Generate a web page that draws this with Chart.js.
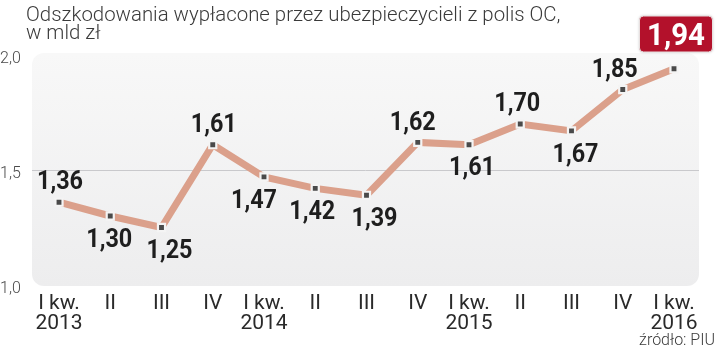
<!DOCTYPE html>
<html lang="pl">
<head>
<meta charset="utf-8">
<script src="https://cdn.jsdelivr.net/npm/chart.js@4.4.1/dist/chart.umd.min.js"></script>
<style>
  html, body { margin: 0; padding: 0; background: #fff; }
  #wrap { position: relative; width: 720px; height: 348px; overflow: hidden; }
  #chart { position: absolute; left: 0; top: 0; }
  #title { position: absolute; left: 26px; top: 5px; font: 300 20.4px/18px Roboto, sans-serif; color: #3a3a3a; white-space: nowrap; }
  #source { position: absolute; right: 5px; top: 332px; font: 300 16px/16px Roboto, sans-serif; color: #3a3a3a; }
</style>
</head>
<body>
<div id="wrap">
  <canvas id="chart" width="720" height="348"></canvas>
  <div id="title">Odszkodowania wypłacone przez ubezpieczycieli z polis OC,<br>w mld zł</div>
  <div id="source">źródło: PIU</div>
</div>
<script>
// quarterly payouts, bn PLN
const quarterLabels = ['I kw.', 'II', 'III', 'IV', 'I kw.', 'II', 'III', 'IV', 'I kw.', 'II', 'III', 'IV', 'I kw.'];
const yearLabels = ['2013', '', '', '', '2014', '', '', '', '2015', '', '', '', '2016'];
const payouts = [1.36, 1.30, 1.25, 1.61, 1.47, 1.42, 1.39, 1.62, 1.61, 1.70, 1.67, 1.85, 1.94];
const yTicks = [1.0, 1.5, 2.0];

// where each value label sits relative to its point
const labelSide = ['up', 'down', 'down', 'up', 'down', 'down', 'down', 'up', 'down', 'up', 'down', 'up', 'box'];
const labelShift = [1, -1, 8, 1, -10, -3, 8, -5, 3, -3, 4, -8, 2];

const categories = quarterLabels.map((q, i) => yearLabels[i] ? [q, yearLabels[i]] : q);

// light panel behind the plot plus the single 1,5 gridline
const panelPlugin = {
    id: 'panel',
    beforeDraw(chart) {
        const ctx = chart.ctx;
        const y = chart.scales.y;
        const x0 = 32, x1 = 699, y0 = 53, y1 = 286, r = 12;
        ctx.save();
        const grad = ctx.createLinearGradient(0, y0, 0, y1);
        grad.addColorStop(0, '#f8f8f8');
        grad.addColorStop(1, '#ededee');
        ctx.fillStyle = grad;
        ctx.beginPath();
        ctx.roundRect(x0, y0, x1 - x0, y1 - y0, r);
        ctx.fill();
        const gy = Math.round(y.getPixelForValue(1.5)) + 0.5;
        ctx.strokeStyle = '#c9c9cc';
        ctx.lineWidth = 1;
        ctx.beginPath();
        ctx.moveTo(x0, gy);
        ctx.lineTo(x1, gy);
        ctx.stroke();
        ctx.restore();
    }
};

function fmt(v, digits) {
    return v.toFixed(digits).replace('.', ',');
}

function drawCondensed(ctx, text, cx, cy, size, squeeze, color) {
    ctx.save();
    ctx.font = 'bold ' + size + 'px Roboto, sans-serif';
    ctx.fillStyle = color;
    ctx.textAlign = 'center';
    ctx.textBaseline = 'alphabetic';
    ctx.translate(cx, cy + size * 0.355);
    ctx.scale(squeeze, 1);
    ctx.fillText(text, 0, 0);
    ctx.restore();
}

// value labels above / below the markers, last one in a red badge
const valueLabelPlugin = {
    id: 'valueLabels',
    afterDatasetsDraw(chart) {
        const ctx = chart.ctx;
        const meta = chart.getDatasetMeta(0);
        meta.data.forEach((pt, i) => {
            const text = fmt(payouts[i], 2);
            const cx = pt.x + labelShift[i];
            if (labelSide[i] === 'box') {
                const bw = 73, bh = 36, by = 16;
                ctx.save();
                ctx.shadowColor = 'rgba(0,0,0,0.25)';
                ctx.shadowBlur = 3;
                ctx.fillStyle = '#b3112b';
                ctx.beginPath();
                ctx.roundRect(cx - bw / 2, by, bw, bh, 4);
                ctx.fill();
                ctx.shadowColor = 'transparent';
                ctx.strokeStyle = '#e8e0e0';
                ctx.lineWidth = 1;
                ctx.stroke();
                ctx.restore();
                drawCondensed(ctx, text, cx, by + bh / 2, 31, 0.95, '#ffffff');
            } else {
                const cy = labelSide[i] === 'up' ? pt.y - 22 : pt.y + 21.5;
                drawCondensed(ctx, text, cx, cy, 26, 0.9, '#1e1e1e');
            }
        });
    }
};

const ctx = document.getElementById('chart').getContext('2d');
new Chart(ctx, {
    type: 'line',
    data: {
        labels: categories,
        datasets: [{
            data: payouts,
            borderColor: '#dba08b',
            borderWidth: 7,
            tension: 0,
            clip: false,
            pointStyle: 'rect',
            pointRadius: 5,
            pointBackgroundColor: '#4a4a4a',
            pointBorderColor: '#f4f4f4',
            pointBorderWidth: 2.2
        }]
    },
    options: {
        responsive: false,
        animation: false,
        events: [],
        layout: { padding: { top: 55, right: 46, left: 0, bottom: 0 } },
        plugins: {
            legend: { display: false },
            tooltip: { enabled: false }
        },
        scales: {
            x: {
                offset: false,
                grid: { display: false },
                border: { display: false },
                afterFit(scale) { scale.height = 63; },
                ticks: {
                    autoSkip: false,
                    maxRotation: 0,
                    padding: 1,
                    color: '#2a2a2a',
                    font: { family: 'Roboto', size: 21, lineHeight: 20 / 21 }
                }
            },
            y: {
                min: 1,
                max: 2,
                grid: { display: false },
                border: { display: false },
                afterFit(scale) { scale.width = 59; },
                afterBuildTicks(scale) { scale.ticks = yTicks.map(v => ({ value: v })); },
                ticks: {
                    crossAlign: 'far',
                    labelOffset: 4,
                    color: '#4a4a4a',
                    font: { family: 'Roboto', size: 16, weight: 300 },
                    callback: v => fmt(v, 1)
                }
            }
        }
    },
    plugins: [panelPlugin, valueLabelPlugin]
});
</script>
</body>
</html>
